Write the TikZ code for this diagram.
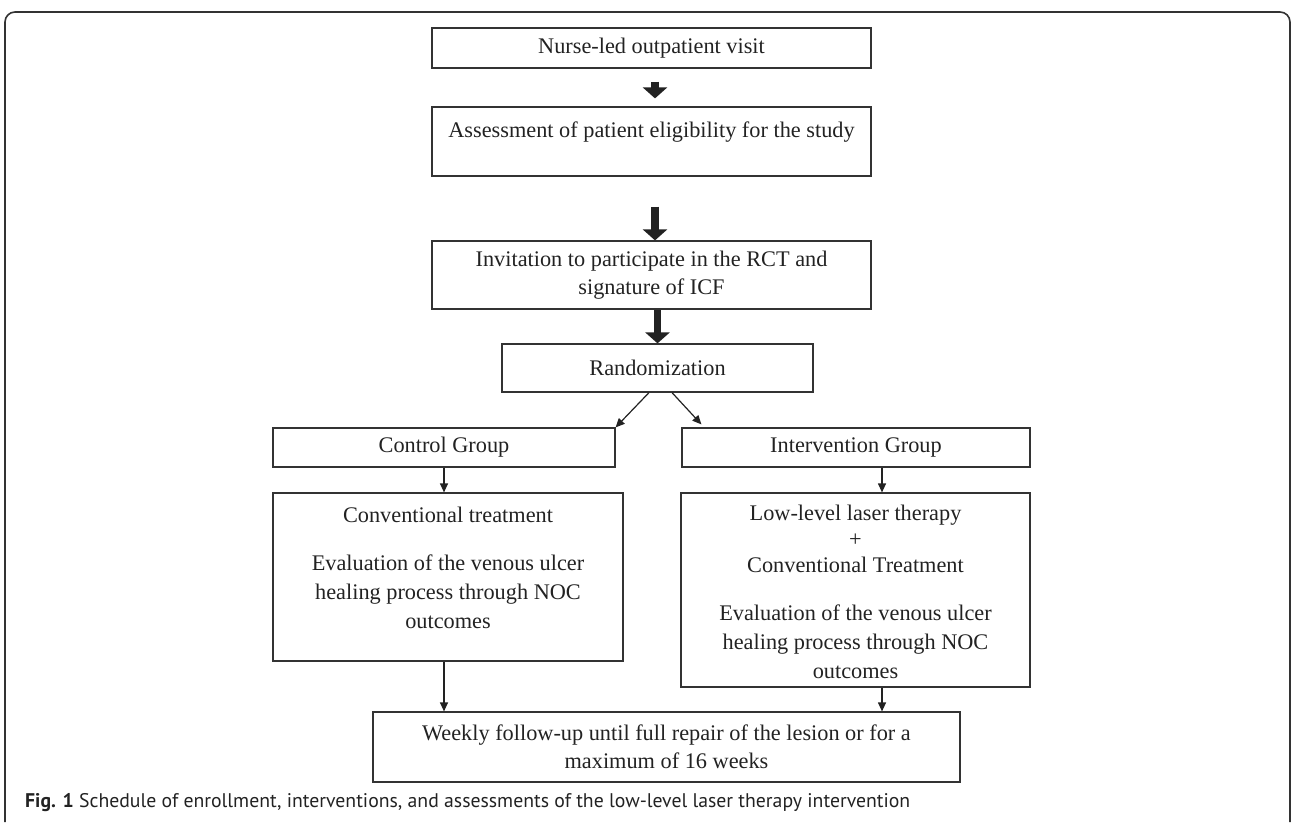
\documentclass[tikz,border=0pt]{standalone}
\usepackage{fontspec}
\setmainfont{Liberation Serif}
\newfontfamily\capfont{PT Sans}
\usetikzlibrary{arrows.meta}
\definecolor{ink}{HTML}{222222}
\definecolor{frame}{HTML}{333333}
\begin{document}
\begin{tikzpicture}[x=1pt,y=-1pt,
  box/.style={draw=frame, line width=1.2pt, inner sep=0pt, align=center, text=ink, font=\fontsize{22.3}{29}\selectfont},
  txt/.style={inner sep=0pt, align=center, text=ink, font=\fontsize{22.3}{29}\selectfont},
  bigarrow/.style={draw=ink, line width=7.5pt, -{Triangle[length=11pt,width=24pt]}},
  arr/.style={draw=ink, line width=1.2pt, -{Triangle[length=9pt,width=8pt]}},
]
\useasboundingbox (0,0) rectangle (1293,822);
\draw[line width=1.6pt, draw=frame, rounded corners=10pt] (5,822) -- (5,12) -- (1290,12) -- (1290,822);

\node[box, minimum width=439pt, minimum height=40pt] (b1) at (651.5,48) {Nurse-led outpatient visit};
\node[box, minimum width=439pt, minimum height=69pt] (b2) at (651.5,141.5) {};
\node[txt, anchor=base] (b2t) at (651.5,137) {Assessment of patient eligibility for the study};
\node[box, minimum width=439pt, minimum height=68pt] (b3) at (651.5,275) {Invitation to participate in the RCT and\\[-1pt] signature of ICF};
\node[box, minimum width=311pt, minimum height=48pt] (rand) at (657.5,368) {Randomization};
\node[box, minimum width=342pt, minimum height=39pt] (ctrl) at (444,447.5) {Control Group};
\node[box, minimum width=348pt, minimum height=39pt] (intg) at (856,447.5) {Intervention Group};
\node[box, minimum width=350pt, minimum height=168pt] (conv) at (448,577) {};
\node[txt, anchor=north] (convt) at (448,507) {Conventional treatment\\[19pt] Evaluation of the venous ulcer\\ healing process through NOC\\ outcomes};
\node[box, minimum width=349pt, minimum height=194pt] (intv) at (855.5,590) {};
\node[txt, anchor=north] (intvt) at (855.5,505) {Low-level laser therapy\\[-3pt] +\\[-3pt] Conventional Treatment\\[19pt] Evaluation of the venous ulcer\\ healing process through NOC\\ outcomes};
\node[box, minimum width=587pt, minimum height=70pt] (week) at (666.5,747) {Weekly follow-up until full repair of the lesion or for a\\[-1pt] maximum of 16 weeks};

\coordinate (ax) at (655,0);
\draw[bigarrow, shorten <=13pt, shorten >=8pt] (ax |- b1.south) -- (ax |- b2.north);
\draw[bigarrow, shorten <=30pt] (ax |- b2.south) -- (ax |- b3.north);
\draw[bigarrow] (rand.north |- b3.south) -- (rand.north);

\draw[arr] ([xshift=-8.5pt]rand.south) -- (ctrl.north east);
\draw[arr] ([xshift=14.5pt]rand.south) -- ([xshift=20pt,yshift=3pt]intg.north west);

\coordinate (ia) at ([xshift=26pt]intg.south);
\draw[arr] (ctrl.south) -- (ctrl.south |- conv.north);
\draw[arr] (ia) -- (ia |- intv.north);
\draw[arr] (ctrl.south |- conv.south) -- (ctrl.south |- week.north);
\draw[arr] (ia |- intv.south) -- (ia |- week.north);

\node[anchor=base west, inner sep=0pt, text=ink, font=\capfont\fontsize{17}{20}\selectfont] (cap) at (25,807) {\resizebox{885pt}{!}{\textbf{Fig. 1} Schedule of enrollment, interventions, and assessments of the low-level laser therapy intervention}};
\end{tikzpicture}
\end{document}
